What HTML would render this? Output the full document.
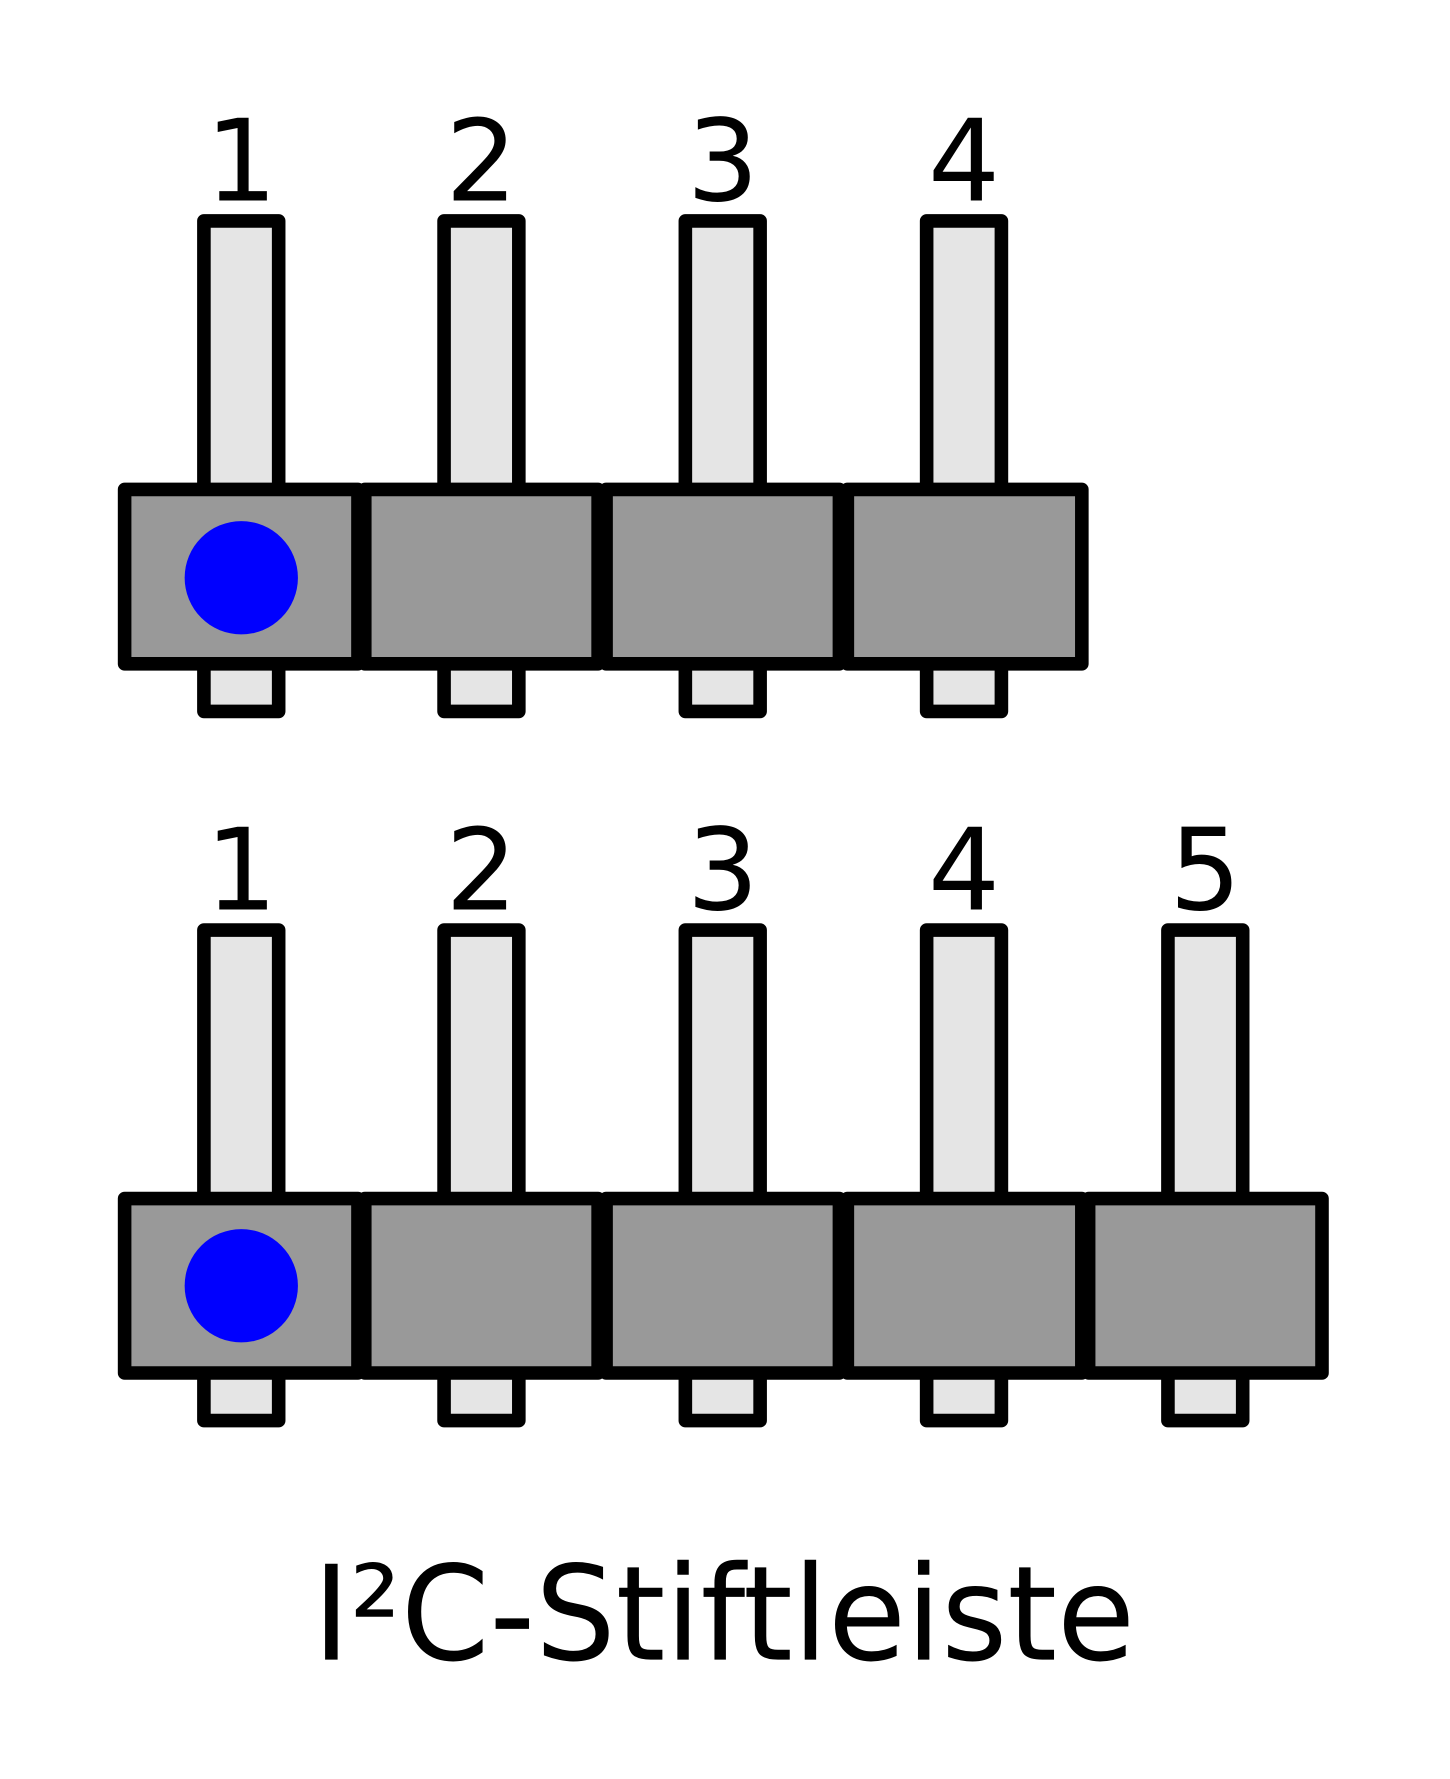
<!DOCTYPE html>
<html><head><meta charset="utf-8"><style>
html,body{margin:0;padding:0;background:#fff;}
svg{display:block;}
</style></head><body>
<svg width="1450" height="1779" viewBox="0 0 1280 1570.4" xmlns="http://www.w3.org/2000/svg">
<rect width="1280" height="1570.4" fill="#fff"/>
<g font-family="DejaVu Sans, Liberation Sans, sans-serif" font-size="100" text-anchor="middle" fill="#000">
<text x="213" y="177">1</text><text x="425" y="177">2</text><text x="638" y="177">3</text><text x="851" y="177">4</text>
<text x="213" y="803">1</text><text x="425" y="803">2</text><text x="638" y="803">3</text><text x="851" y="803">4</text><text x="1064" y="803">5</text>
</g>
<g stroke="#000" stroke-width="12" stroke-linejoin="round">
<g fill="#e5e5e5">
<rect x="180" y="195" width="66" height="433"/>
<rect x="392" y="195" width="66" height="433"/>
<rect x="605" y="195" width="66" height="433"/>
<rect x="818" y="195" width="66" height="433"/>
</g>
<g fill="#999">
<rect x="110" y="432" width="206" height="154"/>
<rect x="322" y="432" width="206" height="154"/>
<rect x="535" y="432" width="206" height="154"/>
<rect x="748" y="432" width="207" height="154"/>
</g>
<g fill="#e5e5e5">
<rect x="180" y="821" width="66" height="433"/>
<rect x="392" y="821" width="66" height="433"/>
<rect x="605" y="821" width="66" height="433"/>
<rect x="818" y="821" width="66" height="433"/>
<rect x="1031" y="821" width="66" height="433"/>
</g>
<g fill="#999">
<rect x="110" y="1058" width="206" height="154"/>
<rect x="322" y="1058" width="206" height="154"/>
<rect x="535" y="1058" width="206" height="154"/>
<rect x="748" y="1058" width="207" height="154"/>
<rect x="961" y="1058" width="206" height="154"/>
</g>
</g>
<circle cx="213" cy="510" r="50" fill="#00f"/>
<circle cx="213" cy="1135" r="50" fill="#00f"/>
<text x="276" y="1465" font-family="DejaVu Sans, Liberation Sans, sans-serif" font-size="116" textLength="726" lengthAdjust="spacingAndGlyphs" fill="#000">I²C-Stiftleiste</text>
</svg>
</body></html>
